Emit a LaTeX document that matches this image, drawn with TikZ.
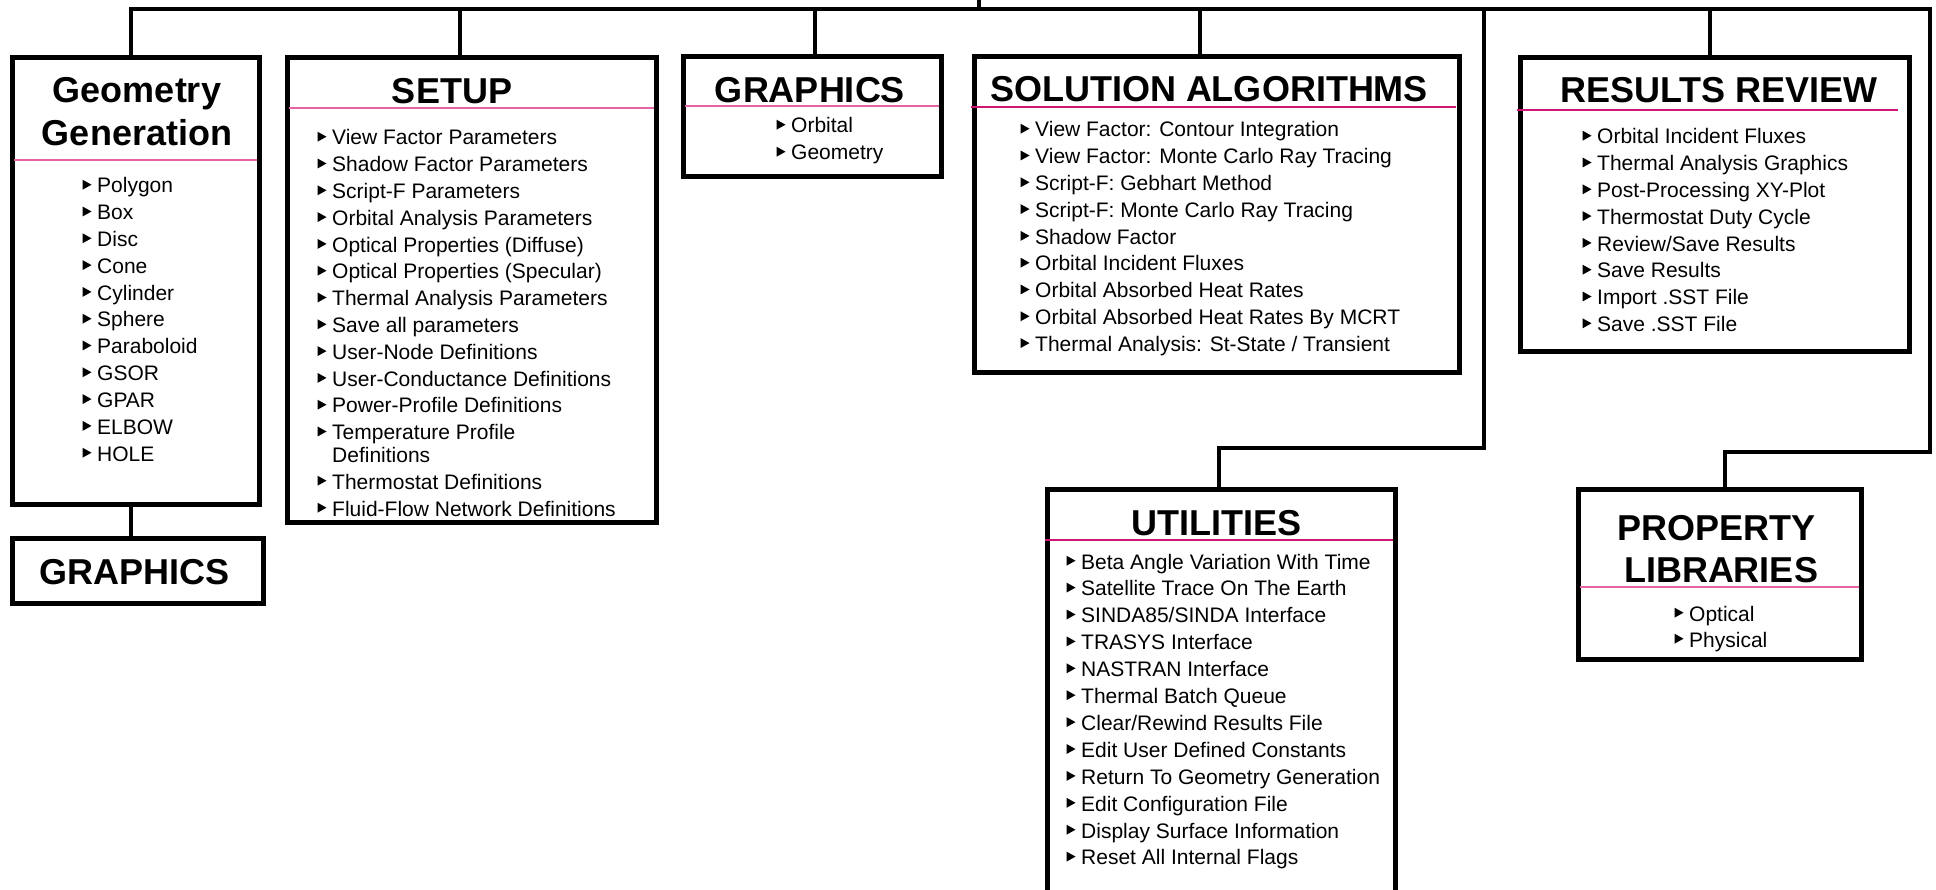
\documentclass[tikz,border=0pt]{standalone}
\usepackage{fontspec}
\setmainfont{Liberation Sans}
\usetikzlibrary{fit}
\definecolor{pinkL}{RGB}{228,100,165}
\definecolor{pinkD}{RGB}{210,20,115}
\newcommand\bulletlist[5]{%
  \foreach \t [count=\i] in {#5} {%
    \node[itemtext] (#1-\i) at (#2, {#3+(\i-1)*#4}) {\t};
    \fill[tri] ([shift={(-14.5,-3.3)}]#1-\i.base west) -- ++(0,-10) -- ++(9,5) -- cycle;
  }%
}
\tikzset{
  boxshape/.style={draw, line width=5pt, inner sep=0pt, outer sep=0pt, rectangle},
  conn/.style={draw, line width=4.5pt, line join=miter},
  titletext/.style={anchor=base, inner sep=0pt, font=\fontsize{36}{43}\selectfont\bfseries},
  itemtext/.style={anchor=base west, inner sep=0pt, font=\fontsize{21}{27}\selectfont},
  tri/.style={fill=black},
  rule/.style={line width=2pt}
}
\begin{document}
\begin{tikzpicture}[x=1pt,y=-1pt]
\useasboundingbox (0,0) rectangle (1936,890);
% boxes
\node[boxshape, fit={(12,58) (259,504)}] (geo) {};
\node[boxshape, fit={(12,538) (263,603)}] (gfx2) {};
\node[boxshape, fit={(287,58) (656,522)}] (setup) {};
\node[boxshape, fit={(683,57) (941,177)}] (gfx1) {};
\node[boxshape, fit={(974,57) (1459,373)}] (sol) {};
\node[boxshape, fit={(1520,58) (1909,352)}] (res) {};
\node[boxshape, fit={(1047,489) (1395,910)}] (util) {};
\node[boxshape, fit={(1578,489) (1861,659)}] (prop) {};
% pink rules
\draw[rule, pinkL] (14,160) -- (257,160);
\draw[rule, pinkL] (289,108) -- (654,108);
\draw[rule, pinkL] (685,106) -- (939,106);
\draw[rule, pinkD] (971,107) -- (1456,107);
\draw[rule, pinkD] (1517,110) -- (1898,110);
\draw[rule, pinkD] (1045,540) -- (1393,540);
\draw[rule, pinkL] (1580,587) -- (1859,587);
% titles
\node[titletext] (geoT1) at (137,103) {Geometry};
\node[titletext] (geoT2) at (137,146) {Generation};
\node[titletext] (gfx2T) at (135,584) {GRAPHICS};
\node[titletext] (setupT) at (452,104) {SETUP};
\node[titletext] (gfx1T) at (810,103) {GRAPHICS};
\node[titletext] (solT) at (1209,102) {SOLUTION ALGORITHMS};
\node[titletext] (resT) at (1719,103) {RESULTS REVIEW};
\node[titletext] (utilT) at (1216,535) {UTILITIES};
\node[titletext] (propT1) at (1716,540) {PROPERTY};
\node[titletext] (propT2) at (1721,582) {LIBRARIES};
% items
\bulletlist{gi}{97}{193}{26.8}{Polygon,Box,Disc,Cone,Cylinder,Sphere,Paraboloid,GSOR,GPAR,ELBOW,HOLE}
\bulletlist{si}{332}{145}{26.8}{View Factor Parameters,Shadow Factor Parameters,Script-F Parameters,Orbital Analysis Parameters,Optical Properties (Diffuse),Optical Properties (Specular),Thermal Analysis Parameters,Save all parameters,User-Node Definitions,User-Conductance Definitions,Power-Profile Definitions,Temperature Profile}
\node[itemtext] (si-12b) at (332,462) {Definitions};
\bulletlist{sj}{332}{489}{27}{Thermostat Definitions,Fluid-Flow Network Definitions}
\bulletlist{ci}{791}{133}{27}{Orbital,Geometry}
\bulletlist{oi}{1035}{137}{26.8}{View Factor: Contour Integration,View Factor: Monte Carlo Ray Tracing,Script-F: Gebhart Method,Script-F: Monte Carlo Ray Tracing,Shadow Factor,Orbital Incident Fluxes,Orbital Absorbed Heat Rates,Orbital Absorbed Heat Rates By MCRT,Thermal Analysis: St-State / Transient}
\bulletlist{ri}{1597}{144}{26.8}{Orbital Incident Fluxes,Thermal Analysis Graphics,Post-Processing XY-Plot,Thermostat Duty Cycle,Review/Save Results,Save Results,Import .SST File,Save .SST File}
\bulletlist{ui}{1081}{569}{26.9}{Beta Angle Variation With Time,Satellite Trace On The Earth,SINDA85/SINDA Interface,TRASYS Interface,NASTRAN Interface,Thermal Batch Queue,Clear/Rewind Results File,Edit User Defined Constants,Return To Geometry Generation,Edit Configuration File,Display Surface Information,Reset All Internal Flags}
\bulletlist{pi}{1689}{621}{26}{Optical,Physical}
% connectors
\coordinate (top) at (979,0);
\coordinate (dTop) at (979,9);
\coordinate (dGeo) at (131,9);
\coordinate (dSetup) at (460,9);
\coordinate (dGfx) at (815,9);
\coordinate (dSol) at (1200,9);
\coordinate (dUtil) at (1484,9);
\coordinate (dRes) at (1710,9);
\coordinate (dRight) at (1930,9);
\coordinate (utK) at (1219,448);
\coordinate (prK) at (1725,452);
\draw[conn] (top) -- (dTop);
\draw[conn] (dGeo |- geo.north) -- (dGeo) -- (dRight) -- (dRight |- prK) -- (prK) -- (prK |- prop.north);
\draw[conn] (dSetup) -- (dSetup |- setup.north);
\draw[conn] (dGfx) -- (dGfx |- gfx1.north);
\draw[conn] (dSol) -- (dSol |- sol.north);
\draw[conn] (dRes) -- (dRes |- res.north);
\draw[conn] (dUtil) -- (dUtil |- utK) -- (utK) -- (utK |- util.north);
\draw[conn] (dGeo |- geo.south) -- (dGeo |- gfx2.north);
\end{tikzpicture}
\end{document}
